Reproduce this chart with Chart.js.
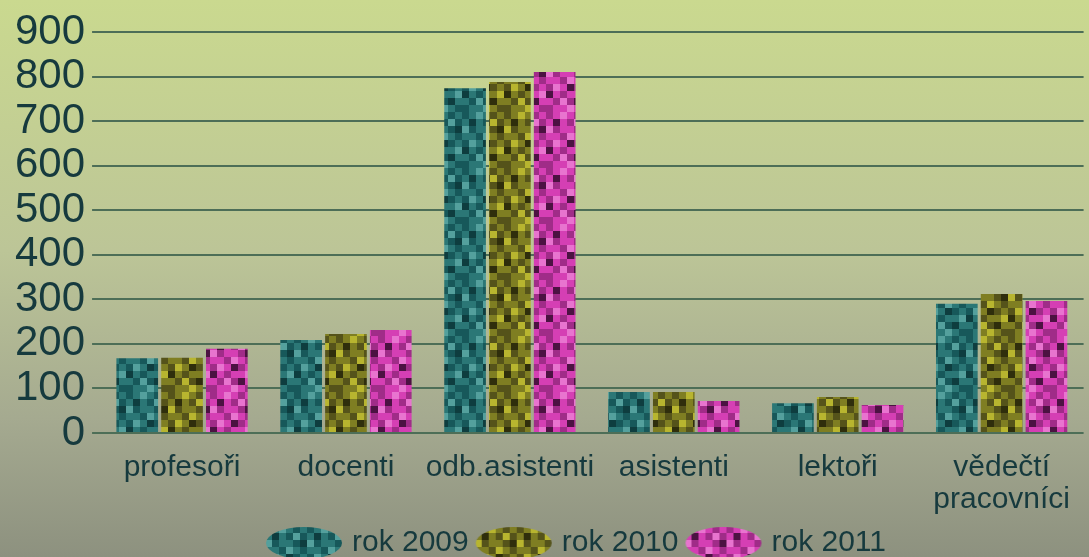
<!DOCTYPE html>
<html lang="cs">
<head>
<meta charset="UTF-8">
<title>Počty pracovníků</title>
<script src="https://cdn.jsdelivr.net/npm/chart.js"></script>
<style>
  html, body { margin: 0; padding: 0; }
  body { width: 1089px; height: 557px; overflow: hidden; }
  #wrap { position: relative; width: 1089px; height: 557px; }
</style>
</head>
<body>
<div id="wrap"><canvas id="chart"></canvas></div>
<script>
// data
const categories = ['profesoři', 'docenti', 'odb.asistenti', 'asistenti', 'lektoři', ['vědečtí', 'pracovníci']];
const seriesNames = ['rok 2009', 'rok 2010', 'rok 2011'];
const rok2009 = [168, 209, 774, 92, 67, 290];
const rok2010 = [169, 222, 788, 92, 81, 312];
const rok2011 = [189, 231, 810, 72, 63, 296];
const yMin = 0, yMax = 900, yStep = 100;

const textColor = '#163a3e';
const font = 'Liberation Sans, Arial, sans-serif';

// checkered look of the bars (shade index per 7px cell)
const cells = [
  [1,0,2,0,1,0],
  [0,3,0,1,2,1],
  [2,1,0,0,1,3],
  [0,0,1,2,0,1],
  [1,2,0,3,1,0],
  [3,0,1,0,0,2],
  [0,1,2,1,3,0],
  [1,0,0,2,0,1]
];
const palettes = [
  ['#2b7776', '#17585a', '#54a09d', '#0e3d3f'],
  ['#7f7e22', '#55531a', '#b8b52f', '#2f2e0c'],
  ['#d53fb4', '#a02c88', '#e874cf', '#4c1242']
];

function makePattern(pal) {
  const c = document.createElement('canvas');
  c.width = 42; c.height = 56;
  const g = c.getContext('2d');
  cells.forEach((row, r) => row.forEach((v, k) => {
    g.fillStyle = pal[v];
    g.fillRect(k * 7, r * 7, 7, 7);
  }));
  return g.createPattern(c, 'repeat');
}

function makeEllipse(pal) {
  const c = document.createElement('canvas');
  c.width = 78; c.height = 34;
  const g = c.getContext('2d');
  g.fillStyle = makePattern(pal);
  g.beginPath();
  g.ellipse(39, 17, 38, 16, 0, 0, Math.PI * 2);
  g.fill();
  return c;
}

const bgPlugin = {
  id: 'bg',
  beforeDraw(chart) {
    const ctx = chart.ctx;
    const grd = ctx.createLinearGradient(0, 0, 0, chart.height);
    grd.addColorStop(0, '#cad98f');
    grd.addColorStop(0.45, '#bcc597');
    grd.addColorStop(0.75, '#a5aa90');
    grd.addColorStop(1, '#8d917f');
    ctx.save();
    ctx.fillStyle = grd;
    ctx.fillRect(0, 0, chart.width, chart.height);
    ctx.restore();
  }
};

// move the legend a bit right and up, like in the original
const legendShift = {
  id: 'legendShift',
  afterLayout(chart) {
    const lg = chart.legend;
    if (lg) {
      lg.left += 30;
      lg.right += 30;
      lg.top -= 18;
      lg.bottom -= 18;
    }
  }
};

const allValues = [rok2009, rok2010, rok2011];
const datasets = allValues.map((vals, i) => ({
  label: seriesNames[i],
  data: vals,
  backgroundColor: makePattern(palettes[i]),
  borderWidth: 0,
  pointStyle: makeEllipse(palettes[i]),
  categoryPercentage: 0.82,
  barPercentage: 0.93
}));

new Chart(document.getElementById('chart'), {
  type: 'bar',
  data: { labels: categories, datasets: datasets },
  options: {
    responsive: true,
    maintainAspectRatio: false,
    animation: false,
    layout: { padding: { top: 32, right: 0, left: 8, bottom: -29 } },
    plugins: {
      tooltip: { enabled: false },
      legend: {
        position: 'bottom',
        labels: {
          usePointStyle: true,
          pointStyleWidth: 66,
          boxHeight: 30,
          padding: 12,
          color: textColor,
          font: { family: font, size: 30 }
        }
      }
    },
    scales: {
      x: {
        grid: { display: false, drawTicks: false },
        border: { display: false },
        ticks: {
          color: textColor,
          padding: 19,
          maxRotation: 0,
          autoSkip: false,
          font: { family: font, size: 30, lineHeight: 1.05 }
        }
      },
      y: {
        min: yMin,
        max: yMax,
        grid: { color: '#4d6e57', lineWidth: 2, tickLength: 8, tickColor: '#4d6e57' },
        border: { display: false },
        ticks: {
          stepSize: yStep,
          autoSkip: false,
          padding: 7,
          color: textColor,
          font: { family: font, size: 42, lineHeight: 1 }
        }
      }
    }
  },
  plugins: [bgPlugin, legendShift]
});
</script>
</body>
</html>
